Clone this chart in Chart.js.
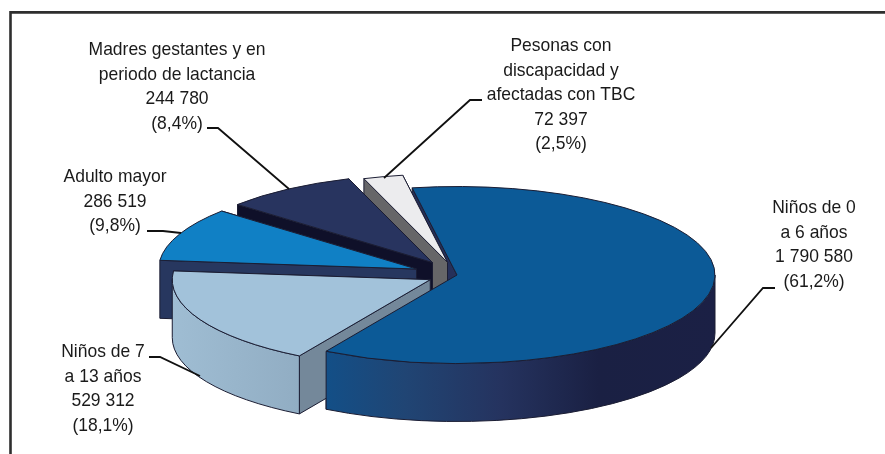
<!DOCTYPE html>
<html>
<head>
<meta charset="utf-8">
<script src="https://cdn.jsdelivr.net/npm/chart.js"></script>
<style>
    html, body { margin: 0; padding: 0; background: #fff; }
    #wrap { width: 885px; height: 454px; }
</style>
</head>
<body>
<div id="wrap"><canvas id="pie" width="885" height="454"></canvas></div>
<script>
// data, clockwise from the big slice
const categories = ["Niños de 0 a 6 años", "Niños de 7 a 13 años", "Adulto mayor", "Madres gestantes y en periodo de lactancia", "Pesonas con discapacidad y afectadas con TBC"];
const values = [1790580, 529312, 286519, 244780, 72397];
const percents = ["61,2", "18,1", "9,8", "8,4", "2,5"];
const nameLines = [
    ["Niños de 0", "a 6 años"],
    ["Niños de 7", "a 13 años"],
    ["Adulto mayor"],
    ["Madres gestantes y en", "periodo de lactancia"],
    ["Pesonas con", "discapacidad y", "afectadas con TBC"],
];

// styles
const topColors = ["#0c5a97", "#a2c2da", "#1080c5", "#28345f", "#ececee"];
const cutColors = ["#25305a", "#74889a", "#27375f", "#0f1029", "#666668"];
const explode = [0, 30, 44, 44, 38];
const labelX = [814, 103, 115, 177, 561];
const labelY = [213, 357, 182, 55, 51];
const leaders = [
    [[775, 288], [763, 288], [711, 348]],
    [[149, 357], [160, 357], [200, 376]],
    [[147, 231], [163, 231], [181, 233]],
    [[207, 128], [218, 128], [289, 189]],
    [[482, 100], [470, 100], [384, 178]],
];
const squash = 0.343;
const depth = 58;
const lineHeight = 24.6;
const textSqueeze = 0.945;
const edge = "#1b1d33";

function formatValue(v) {
    return String(v).replace(/\B(?=(\d{3})+$)/g, " ");
}

function drawSlice(ctx, arc, i, part) {
    const mid = (arc.startAngle + arc.endAngle) / 2;
    const cx = arc.x + Math.cos(mid) * explode[i];
    const cy = arc.y + Math.sin(mid) * explode[i] * squash;
    const ry = arc.outerRadius * squash;

    if (part === "cuts") {
        for (const a of [arc.endAngle, arc.startAngle]) {
            const px = cx + Math.cos(a) * arc.outerRadius;
            const py = cy + Math.sin(a) * ry;
            ctx.beginPath();
            ctx.moveTo(cx, cy);
            ctx.lineTo(px, py);
            ctx.lineTo(px, py + depth);
            ctx.lineTo(cx, cy + depth);
            ctx.closePath();
            ctx.fillStyle = cutColors[i];
            ctx.fill();
            ctx.strokeStyle = edge;
            ctx.lineWidth = 1;
            ctx.stroke();
        }
    }

    if (part === "wall") {
        // only the part of the rim that faces us
        const a0 = Math.max(arc.startAngle, 0);
        const a1 = Math.min(arc.endAngle, Math.PI);
        if (a1 <= a0) return;
        const x0 = cx + Math.cos(a1) * arc.outerRadius;
        const x1 = cx + Math.cos(a0) * arc.outerRadius;
        const grad = ctx.createLinearGradient(x0, 0, x1, 0);
        if (i === 0) {
            grad.addColorStop(0, "#134f87");
            grad.addColorStop(0.2, "#204574");
            grad.addColorStop(0.45, "#25335f");
            grad.addColorStop(0.7, "#1a2043");
            grad.addColorStop(1, "#1b2045");
        } else {
            grad.addColorStop(0, "#9fbdd3");
            grad.addColorStop(1, "#91adc3");
        }
        ctx.beginPath();
        ctx.ellipse(cx, cy, arc.outerRadius, ry, 0, a0, a1);
        ctx.ellipse(cx, cy + depth, arc.outerRadius, ry, 0, a1, a0, true);
        ctx.closePath();
        ctx.fillStyle = grad;
        ctx.fill();
        ctx.strokeStyle = edge;
        ctx.lineWidth = 1;
        ctx.stroke();
    }

    if (part === "top") {
        ctx.save();
        ctx.translate(cx, cy);
        ctx.scale(1, squash);
        ctx.translate(-arc.x, -arc.y);
        arc.draw(ctx);
        ctx.restore();
        // the arc border gets squashed, so redo it at full width
        ctx.beginPath();
        ctx.moveTo(cx, cy);
        ctx.ellipse(cx, cy, arc.outerRadius, ry, 0, arc.startAngle, arc.endAngle);
        ctx.closePath();
        ctx.strokeStyle = edge;
        ctx.lineWidth = 1;
        ctx.stroke();
    }
}

const pie3d = {
    id: "pie3d",
    beforeDatasetDraw(chart, args) {
        const ctx = chart.ctx;
        const arcs = args.meta.data;
        drawSlice(ctx, arcs[0], 0, "cuts");
        for (const i of [4, 3, 2, 1]) {
            drawSlice(ctx, arcs[i], i, "cuts");
            drawSlice(ctx, arcs[i], i, "wall");
            drawSlice(ctx, arcs[i], i, "top");
        }
        drawSlice(ctx, arcs[0], 0, "wall");
        drawSlice(ctx, arcs[0], 0, "top");
        return false;
    },
    afterDraw(chart) {
        const ctx = chart.ctx;
        ctx.save();

        // frame, open on the right and at the bottom
        ctx.strokeStyle = "#2e2e2e";
        ctx.lineWidth = 2.6;
        ctx.beginPath();
        ctx.moveTo(10.5, 454);
        ctx.lineTo(10.5, 12.4);
        ctx.lineTo(885, 12.4);
        ctx.stroke();

        ctx.strokeStyle = "#111111";
        ctx.lineWidth = 1.8;
        for (const pts of leaders) {
            ctx.beginPath();
            pts.forEach((p, k) => k ? ctx.lineTo(p[0], p[1]) : ctx.moveTo(p[0], p[1]));
            ctx.stroke();
        }

        ctx.fillStyle = "#1a1a1a";
        ctx.font = "18.5px 'Liberation Sans'";
        ctx.textAlign = "center";
        ctx.textBaseline = "alphabetic";
        values.forEach((v, i) => {
            const lines = [...nameLines[i], formatValue(v), "(" + percents[i] + "%)"];
            lines.forEach((t, k) => {
                ctx.save();
                ctx.translate(labelX[i], labelY[i] + k * lineHeight);
                ctx.scale(textSqueeze, 1);
                ctx.fillText(t, 0, 0);
                ctx.restore();
            });
        });
        ctx.restore();
    }
};

new Chart(document.getElementById("pie"), {
    type: "pie",
    data: {
        labels: categories,
        datasets: [{
            data: values,
            backgroundColor: topColors,
            borderWidth: 0,
        }]
    },
    options: {
        responsive: false,
        animation: false,
        rotation: -10,
        radius: 258,
        layout: { padding: { left: 29, top: 96 } },
        plugins: {
            legend: { display: false },
            tooltip: { enabled: false },
        },
    },
    plugins: [pie3d],
});
</script>
</body>
</html>
